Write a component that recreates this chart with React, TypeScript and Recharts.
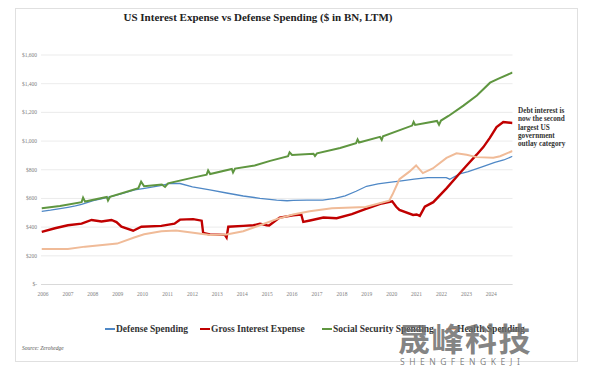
import { LineChart, Line, XAxis, YAxis, CartesianGrid } from "recharts";

// [year, $BN] points
const defense: [number, number][] = [
  [2005.95, 510], [2006.3, 518], [2006.56, 525], [2007.0, 538], [2007.3, 548], [2007.55, 559],
  [2008.02, 585], [2008.56, 606], [2009.1, 630], [2009.68, 659], [2010.08, 670], [2010.77, 691],
  [2011.1, 705], [2011.5, 704], [2012.0, 681], [2012.7, 659], [2013.37, 638], [2014.04, 617],
  [2014.71, 601], [2015.38, 588], [2015.8, 584], [2016.05, 586], [2016.59, 588], [2017.23, 588],
  [2017.72, 600], [2018.13, 618], [2018.57, 650], [2018.99, 685], [2019.45, 702], [2019.9, 712],
  [2020.39, 723], [2020.9, 735], [2021.45, 745], [2022.19, 745], [2022.33, 734], [2022.73, 772],
  [2023.07, 787], [2023.6, 819], [2024.14, 851], [2024.5, 868], [2024.85, 894],
];

const interest: [number, number][] = [
  [2005.95, 367], [2006.48, 392], [2007.0, 413], [2007.55, 424], [2007.95, 450], [2008.35, 439],
  [2008.75, 450], [2008.95, 435], [2009.15, 403], [2009.62, 375], [2009.95, 403], [2010.75, 409],
  [2011.28, 424], [2011.5, 452], [2012.03, 456], [2012.37, 445], [2012.43, 360], [2012.7, 349],
  [2013.3, 346], [2013.37, 328], [2013.44, 403], [2014.04, 409], [2014.45, 413], [2014.71, 424],
  [2014.98, 413], [2015.08, 412], [2015.5, 467], [2016.04, 482], [2016.37, 488], [2016.45, 436],
  [2016.72, 446], [2017.26, 467], [2017.79, 462], [2018.4, 490], [2018.94, 525], [2019.6, 565],
  [2020.02, 580], [2020.18, 542], [2020.31, 520], [2020.86, 485], [2021.0, 488], [2021.13, 478],
  [2021.33, 542], [2021.67, 574], [2022.2, 670], [2022.74, 777], [2023.01, 830], [2023.41, 905],
  [2023.68, 958], [2023.94, 1022], [2024.21, 1097], [2024.48, 1133], [2024.85, 1126],
];

const socialSecurity: [number, number][] = [
  [2005.95, 531], [2006.68, 548], [2007.55, 574], [2007.61, 606], [2007.69, 578], [2008.56, 610],
  [2008.61, 585], [2008.69, 612], [2009.83, 672], [2009.94, 717], [2010.06, 685], [2010.77, 697],
  [2010.9, 680], [2011.02, 705], [2012.02, 745], [2012.57, 766], [2012.63, 795], [2012.71, 770],
  [2013.58, 805], [2013.63, 781], [2013.71, 808], [2014.5, 830], [2015.12, 862], [2015.84, 895],
  [2015.9, 922], [2016.0, 903], [2016.86, 912], [2016.92, 896], [2017.0, 914], [2017.93, 952],
  [2018.57, 985], [2018.63, 1011], [2018.69, 990], [2019.53, 1029], [2019.6, 1008], [2019.65, 1033],
  [2020.82, 1108], [2020.88, 1133], [2020.94, 1112], [2021.82, 1140], [2021.9, 1114], [2021.98, 1143],
  [2022.28, 1175], [2022.88, 1247], [2023.42, 1318], [2023.95, 1407], [2024.29, 1435], [2024.85, 1478],
];

const health: [number, number][] = [
  [2005.95, 247], [2007.0, 247], [2007.69, 264], [2008.98, 285], [2009.66, 328], [2010.06, 350],
  [2010.75, 371], [2011.34, 376], [2012.03, 360], [2012.71, 345], [2013.37, 349], [2014.04, 371],
  [2014.71, 413], [2015.38, 456], [2016.04, 488], [2016.71, 510], [2017.6, 531], [2018.95, 540],
  [2019.9, 584], [2020.03, 627], [2020.31, 734], [2020.71, 787], [2020.98, 830], [2021.25, 777],
  [2021.65, 809], [2022.2, 883], [2022.6, 915], [2023.01, 904], [2023.41, 888], [2024.08, 883],
  [2024.35, 894], [2024.85, 931],
];

const yearTicks = [2006, 2007, 2008, 2009, 2010, 2011, 2012, 2013, 2014, 2015, 2016, 2017, 2018, 2019, 2020, 2021, 2022, 2023, 2024];
const valueTicks = [0, 200, 400, 600, 800, 1000, 1200, 1400, 1600];

const seriesNames = ["Defense Spending", "Gross Interest Expense", "Social Security Spending", "Health Spending"];
const seriesColors = ["#4f88c6", "#c00000", "#5f9640", "#f0bb98"];

const noteLines = ["Debt interest is", "now the second", "largest US", "government", "outlay category"];

const toRows = (pts: [number, number][]) => pts.map(([year, value]) => ({ year, value }));

const serif = "'Liberation Serif', 'DejaVu Serif', serif";
const tickStyle = { fill: "#7f7f7f", fontSize: 5.5, fontFamily: serif };
const legendLefts = [105, 200, 322, 446];

function fmtDollar(v: number) {
  return v === 0 ? "$-" : `$${v.toLocaleString("en-US")}`;
}

export default function App() {
  const allSeries = [defense, interest, socialSecurity, health];
  const widths = [1.3, 2.4, 2, 2];
  return (
    <div style={{ position: "absolute", left: 0, top: 0, width: 591, height: 368, background: "#fff", overflow: "hidden" }}>
      <div style={{ position: "absolute", left: 15, top: 8, width: 561, height: 352, border: "1px solid #e0e0e0" }} />
      <div
        style={{
          position: "absolute", left: 58, top: 11, width: 400, textAlign: "center",
          fontFamily: serif, fontWeight: "bold", fontSize: 11, color: "#222",
        }}
      >
        US Interest Expense vs Defense Spending ($ in BN, LTM)
      </div>
      <LineChart width={591} height={368} margin={{ top: 55, right: 78.5, bottom: 63.5, left: 16 }} style={{ position: "absolute", left: 0, top: 0 }}>
        <CartesianGrid vertical={false} stroke="#e6e6e6" strokeWidth={0.8} />
        <XAxis
          type="number"
          dataKey="year"
          domain={[2005.92, 2024.85]}
          allowDataOverflow
          ticks={yearTicks}
          tick={tickStyle}
          tickLine={false}
          axisLine={{ stroke: "#d9d9d9" }}
          tickMargin={2}
          height={20}
        />
        <YAxis
          type="number"
          domain={[0, 1600]}
          ticks={valueTicks}
          tick={tickStyle}
          tickFormatter={fmtDollar}
          tickLine={false}
          axisLine={false}
          width={25}
          tickSize={3}
          tickMargin={1}
        />
        {allSeries.map((pts, i) => (
          <Line
            key={seriesNames[i]}
            data={toRows(pts)}
            dataKey="value"
            name={seriesNames[i]}
            type="linear"
            stroke={seriesColors[i]}
            strokeWidth={widths[i]}
            dot={false}
            isAnimationActive={false}
          />
        ))}
      </LineChart>
      {seriesNames.map((name, i) => (
        <div
          key={name}
          style={{
            position: "absolute", left: legendLefts[i], top: 324, display: "flex", alignItems: "center",
            fontFamily: serif, fontWeight: "bold", fontSize: 9.5, color: "#333", whiteSpace: "nowrap",
          }}
        >
          <span style={{ display: "inline-block", width: 10, height: 2, background: seriesColors[i], marginRight: 1 }} />
          {name}
        </div>
      ))}
      <div style={{ position: "absolute", left: 22, top: 345, fontFamily: serif, fontStyle: "italic", fontSize: 5.5, color: "#555" }}>
        Source: Zerohedge
      </div>
      <div
        style={{
          position: "absolute", left: 518, top: 107, fontFamily: serif, fontWeight: "bold",
          fontSize: 7.2, lineHeight: "8.3px", color: "#333", whiteSpace: "nowrap",
        }}
      >
        {noteLines.map((l) => (
          <div key={l}>{l}</div>
        ))}
      </div>
      <div
        style={{
          position: "absolute", left: 398, top: 321, fontFamily: "'Noto Sans CJK SC', sans-serif", fontWeight: "bold",
          fontSize: 32, lineHeight: "32px", color: "rgba(110,110,110,0.85)", letterSpacing: 1.5,
        }}
      >
        晟峰科技
      </div>
      <div
        style={{
          position: "absolute", left: 400, top: 357, fontFamily: "'Noto Sans', sans-serif",
          fontSize: 8.5, lineHeight: "9px", color: "rgba(110,110,110,0.85)", letterSpacing: 4.5,
        }}
      >
        SHENGFENGKEJI
      </div>
    </div>
  );
}
